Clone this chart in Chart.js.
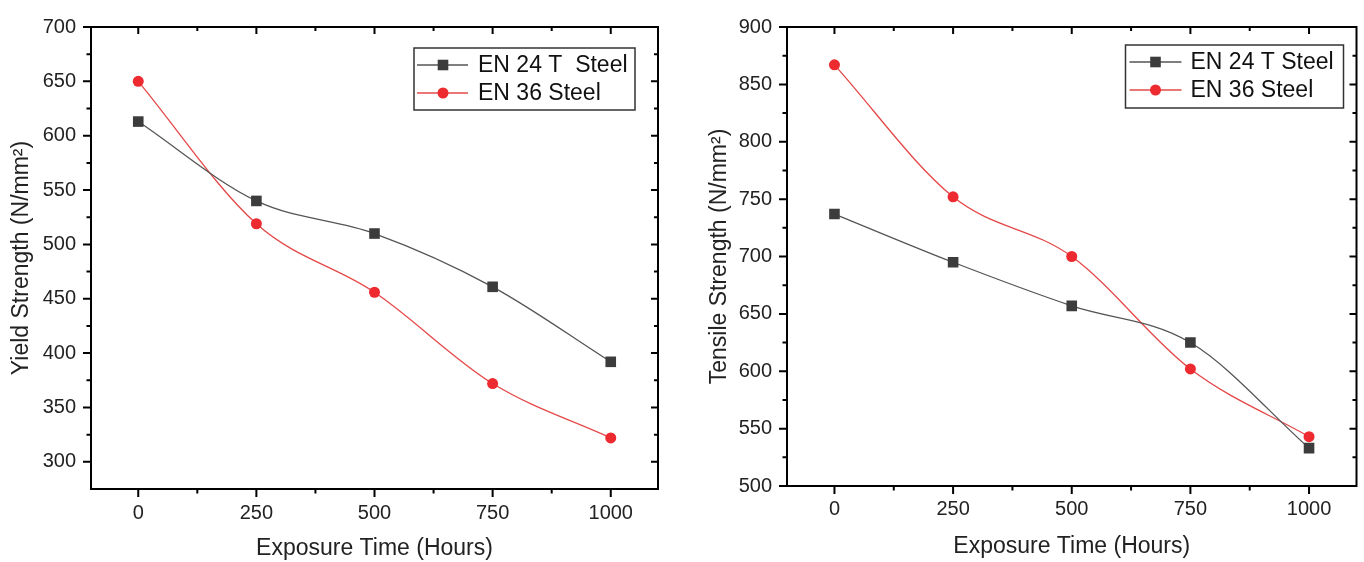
<!DOCTYPE html>
<html><head><meta charset="utf-8">
<script src="https://cdn.jsdelivr.net/npm/chart.js@4.4.0/dist/chart.umd.min.js"></script>
<style>
html,body{margin:0;padding:0;background:#fff;}
#wrap{position:relative;width:1364px;height:562px;overflow:hidden;background:#fff;}
.box{position:absolute;top:0;width:680px;height:562px;}
</style></head><body>
<div id="wrap">
<div class="box" style="left:0"><canvas id="c1" width="680" height="562"></canvas></div>
<div class="box" style="left:684px"><canvas id="c2" width="680" height="562"></canvas></div>
</div>
<script>
const hours = [0, 250, 500, 750, 1000];
const xTickValues = [0, 250, 500, 750, 1000];
const yieldEN24T = [613, 540, 510, 461, 392];
const yieldEN36 = [650, 519, 456, 372, 322];
const tensileEN24T = [737, 695, 657, 625, 533];
const tensileEN36 = [867, 752, 700, 602, 543];
const yieldTicks = [300, 350, 400, 450, 500, 550, 600, 650, 700];
const tensileTicks = [500, 550, 600, 650, 700, 750, 800, 850, 900];
const seriesLabelsYield = ['EN 24 T  Steel', 'EN 36 Steel'];
const seriesLabelsTensile = ['EN 24 T Steel', 'EN 36 Steel'];

const FONT = "'Liberation Sans', Arial, sans-serif";
const GRAY_LINE = '#555555', GRAY_MARK = '#3c3c3c';
const RED_LINE = '#e54848', RED_MARK = '#ec2a2f';

function minors(vals, min, max) {
  const step = vals[1] - vals[0];
  const out = [];
  for (let v = vals[0] - step / 2; v < max; v += step) if (v > min) out.push(v);
  return out;
}

const framePlugin = {
  id: 'frame',
  afterDraw(chart, args, opts) {
    const {ctx, chartArea: a, scales: {x, y}} = chart;
    ctx.save();
    ctx.strokeStyle = '#000';
    ctx.lineWidth = 2;
    ctx.strokeRect(a.left, a.top, a.right - a.left, a.bottom - a.top);
    const xm = x.ticks.map(t => t.value), ym = y.ticks.map(t => t.value);
    const xn = minors(xm, x.min, x.max), yn = minors(ym, y.min, y.max);
    ctx.beginPath();
    const major = 8, minor = 4.5, inMajor = 7, inMinor = 4;
    xm.forEach(v => { const p = x.getPixelForValue(v);
      ctx.moveTo(p, a.bottom); ctx.lineTo(p, a.bottom + major);
      ctx.moveTo(p, a.top); ctx.lineTo(p, a.top + inMajor); });
    xn.forEach(v => { const p = x.getPixelForValue(v);
      ctx.moveTo(p, a.bottom); ctx.lineTo(p, a.bottom + minor);
      ctx.moveTo(p, a.top); ctx.lineTo(p, a.top + inMinor); });
    ym.forEach(v => { const p = y.getPixelForValue(v);
      ctx.moveTo(a.left, p); ctx.lineTo(a.left - major, p);
      ctx.moveTo(a.right, p); ctx.lineTo(a.right - inMajor, p); });
    yn.forEach(v => { const p = y.getPixelForValue(v);
      ctx.moveTo(a.left, p); ctx.lineTo(a.left - minor, p);
      ctx.moveTo(a.right, p); ctx.lineTo(a.right - inMinor, p); });
    ctx.stroke();

    // legend
    const L = opts;
    const bx = a.right - L.rightOff - L.w, by = a.top + L.topOff;
    ctx.fillStyle = '#fff';
    ctx.fillRect(bx, by, L.w, L.h);
    ctx.strokeStyle = '#333';
    ctx.lineWidth = 1.5;
    ctx.strokeRect(bx, by, L.w, L.h);
    const rows = [L.row1, L.row2];
    chart.data.datasets.forEach((ds, i) => {
      const ry = by + rows[i];
      ctx.strokeStyle = ds.borderColor;
      ctx.lineWidth = 1.3;
      ctx.beginPath();
      ctx.moveTo(bx + L.lineX0, ry); ctx.lineTo(bx + L.lineX1, ry);
      ctx.stroke();
      ctx.fillStyle = ds.pointBackgroundColor;
      const mx = bx + L.markX;
      if (ds.pointStyle === 'rect') {
        ctx.fillRect(mx - 5.3, ry - 5.3, 10.6, 10.6);
      } else {
        ctx.beginPath(); ctx.arc(mx, ry, 5.5, 0, Math.PI * 2); ctx.fill();
      }
      ctx.fillStyle = '#111';
      ctx.font = "23px " + FONT;
      ctx.textBaseline = 'middle';
      ctx.textAlign = 'left';
      ctx.fillText(ds.label, bx + L.textX, ry + 1);
    });
    ctx.restore();
  }
};

function makeChart(id, labels, d1, d2, yMin, yMax, yTicks, yTitle, cfg, legendCfg) {
  return new Chart(document.getElementById(id), {
    type: 'line',
    data: {
      datasets: [
        { label: labels[0], data: hours.map((h, i) => ({x: h, y: d1[i]})),
          borderColor: GRAY_LINE, borderWidth: 1.3, pointStyle: 'rect', pointRadius: 7.5,
          pointBackgroundColor: GRAY_MARK, pointBorderColor: GRAY_MARK, pointBorderWidth: 0,
          cubicInterpolationMode: 'monotone', fill: false },
        { label: labels[1], data: hours.map((h, i) => ({x: h, y: d2[i]})),
          borderColor: RED_LINE, borderWidth: 1.3, pointStyle: 'circle', pointRadius: 5.5,
          pointBackgroundColor: RED_MARK, pointBorderColor: RED_MARK, pointBorderWidth: 0,
          cubicInterpolationMode: 'monotone', fill: false }
      ]
    },
    options: {
      responsive: false, animation: false, devicePixelRatio: 1,
      layout: { padding: { left: 0, top: cfg.top, right: cfg.right, bottom: 0 } },
      plugins: { legend: { display: false }, tooltip: { enabled: false }, frame: legendCfg },
      scales: {
        x: {
          type: 'linear', min: -100, max: 1100,
          afterBuildTicks: s => { s.ticks = xTickValues.map(v => ({value: v})); },
          afterFit: s => { s.height = cfg.xh; },
          grid: { display: false, drawTicks: false }, border: { display: false },
          ticks: { padding: cfg.xpad, color: '#222', font: { family: FONT, size: 20 },
                   maxRotation: 0, autoSkip: false, callback: v => String(v) },
          title: { display: true, text: 'Exposure Time (Hours)', color: '#222',
                   font: { family: FONT, size: 23, lineHeight: 1.2 }, padding: { top: 0, bottom: cfg.xtp } }
        },
        y: {
          type: 'linear', min: yMin, max: yMax,
          afterBuildTicks: s => { s.ticks = yTicks.map(v => ({value: v})); },
          afterFit: s => { s.width = cfg.yw; },
          grid: { display: false, drawTicks: false }, border: { display: false },
          ticks: { padding: 15, color: '#222', font: { family: FONT, size: 20 },
                   autoSkip: false, callback: v => String(v) },
          title: { display: true, text: yTitle, color: '#222',
                   font: { family: FONT, size: 23, lineHeight: 1.2 }, padding: { top: cfg.ytp, bottom: 0 } }
        }
      }
    },
    plugins: [framePlugin]
  });
}

makeChart('c1', seriesLabelsYield, yieldEN24T, yieldEN36, 275, 700, yieldTicks,
  'Yield Strength (N/mm²)',
  { top: 21, right: 22, yw: 91, xh: 73, xpad: 12, xtp: 0, ytp: 8 },
  { rightOff: 23, topOff: 21, w: 221, h: 62, lineX0: 3, lineX1: 54, markX: 29, textX: 64, row1: 17, row2: 45 });

makeChart('c2', seriesLabelsTensile, tensileEN24T, tensileEN36, 500, 900, tensileTicks,
  'Tensile Strength (N/mm²)',
  { top: 22, right: 5, yw: 103, xh: 76, xpad: 11, xtp: 2, ytp: 22 },
  { rightOff: 13, topOff: 18, w: 218, h: 63, lineX0: 4, lineX1: 56, markX: 30, textX: 65, row1: 17, row2: 45 });
</script>
</body></html>
